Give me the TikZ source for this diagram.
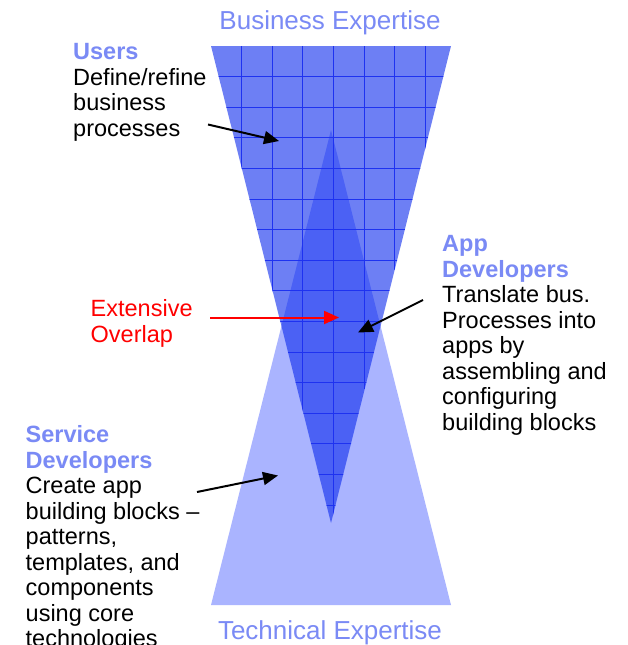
\documentclass[tikz,border=0pt]{standalone}
\usepackage{fontspec}
\setmainfont{Liberation Sans}
\usetikzlibrary{arrows.meta}

\definecolor{techfill}{RGB}{170,180,255}
\definecolor{busfill}{RGB}{13,43,238}
\definecolor{gridblue}{RGB}{30,50,240}
\definecolor{rolecol}{RGB}{122,138,245}
\definecolor{overlapred}{RGB}{255,0,0}

\tikzset{% all coordinates in px, y down
  heading/.style ={text=rolecol, inner sep=0pt, font=\fontsize{26}{28}\selectfont},
  % base west = baseline of the last line
  role/.style    ={align=left, inner sep=0pt, anchor=base west,
                   font=\fontsize{23.5}{25.5}\selectfont},
  gridline/.style={draw=gridblue, line width=0.9pt},
  pointer/.style ={-{Triangle[length=15pt,width=13pt]}, line width=2pt},
}
\newcommand{\rolename}[1]{{\bfseries\color{rolecol}#1}}

\begin{document}
\begin{tikzpicture}[x=1pt, y=-1pt]
  \clip (0, 0) rectangle (627, 645);
  \fill[white] (0, 0) rectangle (627, 645);

  % the two cones
  \fill[techfill] (211, 605) -- (451, 605) -- (331, 130) -- cycle;
  \fill[busfill, fill opacity=0.6] (211, 46) -- (451, 46) -- (331, 523) -- cycle;
  \begin{scope}
    \clip (211, 46) -- (451, 46) -- (331, 523) -- cycle;
    \foreach \i in {1,...,7}
      \draw[gridline] ({211+30.6*\i}, 46) -- ({211+30.6*\i}, 523);
    \foreach \j in {1,...,15}
      \draw[gridline] (211, {46+30.6*\j}) -- (451, {46+30.6*\j});
  \end{scope}

  \node[heading, anchor=base] (bus) at (330, 29.5) {Business Expertise};
  \node[heading, anchor=base] (tech) at (330, 639) {Technical Expertise};

  \node[role] (users) at (73, 136)
    {\rolename{Users}\\Define/refine\\business\\processes};
  \node[role] (appdev) at (442, 430.2)
    {\rolename{App}\\\rolename{Developers}\\Translate bus.\\Processes into\\apps by\\assembling and\\configuring\\building blocks};
  \node[role] (servdev) at (25.5, 646.5)
    {\rolename{Service}\\\rolename{Developers}\\Create app\\building blocks --\\patterns,\\templates, and\\components\\using core\\technologies};
  \node[role, text=overlapred] (overlap) at (90.5, 342.2) {Extensive\\Overlap};

  \coordinate (usersFrom) at (208, 124.5);
  \coordinate (usersTo) at (279, 141);
  \coordinate (appFrom) at (423, 300);
  \coordinate (appTo) at (358, 332.5);
  \coordinate (servFrom) at (197, 492);
  \coordinate (servTo) at (278, 475.5);
  \coordinate (overlapFrom) at (210, 317.5);
  \coordinate (overlapTo) at (339, 317.5);

  \draw[pointer] (usersFrom) -- (usersTo);
  \draw[pointer] (appFrom) -- (appTo);
  \draw[pointer] (servFrom) -- (servTo);
  \draw[pointer, overlapred] (overlapFrom) -- (overlapTo);
\end{tikzpicture}
\end{document}
